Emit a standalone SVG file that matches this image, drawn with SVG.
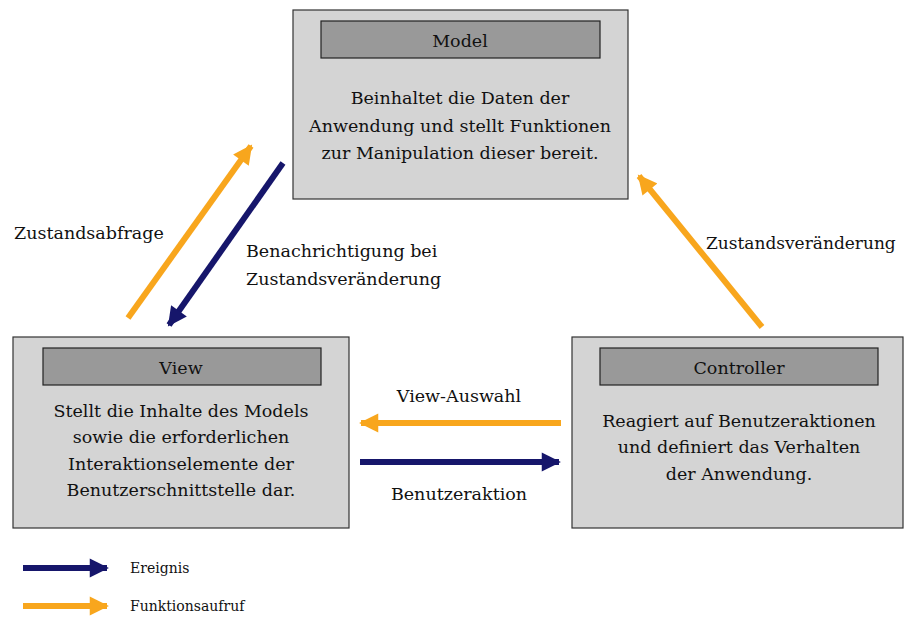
<svg xmlns="http://www.w3.org/2000/svg" width="904" height="619" viewBox="0 0 904 619">
<style>
text{font-family:"DejaVu Serif",serif;fill:#111}
.box{fill:#d4d4d4;stroke:#333;stroke-width:1.2}
.hdr{fill:#999;stroke:#222;stroke-width:1.2}
.t{font-size:17.5px;text-anchor:middle}
.l{font-size:17.5px}
.s{font-size:14px}
.o{stroke:#f8a61d;stroke-width:6;fill:none}
.n{stroke:#16166b;stroke-width:6;fill:none}
</style>
<defs>
<marker id="mo" viewBox="0 0 10 10" refX="9" refY="5" markerWidth="3.4" markerHeight="3.2" orient="auto" markerUnits="strokeWidth"><path d="M0,0 L10,5 L0,10 z" fill="#f8a61d"/></marker>
<marker id="mn" viewBox="0 0 10 10" refX="9" refY="5" markerWidth="3.4" markerHeight="3.2" orient="auto" markerUnits="strokeWidth"><path d="M0,0 L10,5 L0,10 z" fill="#16166b"/></marker>
</defs>
<rect width="904" height="619" fill="#fff"/>
<g id="model">
<rect class="box" x="293" y="10" width="335" height="189"/>
<rect class="hdr" x="321" y="21" width="279" height="37"/>
<text class="t" x="460" y="47">Model</text>
<text class="t" x="460" y="104">Beinhaltet die Daten der</text>
<text class="t" x="460" y="132">Anwendung und stellt Funktionen</text>
<text class="t" x="460" y="159">zur Manipulation dieser bereit.</text>
</g>
<g id="view">
<rect class="box" x="13" y="337" width="336" height="191"/>
<rect class="hdr" x="43" y="348" width="278" height="37"/>
<text class="t" x="181" y="374">View</text>
<text class="t" x="181" y="417">Stellt die Inhalte des Models</text>
<text class="t" x="181" y="443">sowie die erforderlichen</text>
<text class="t" x="181" y="470">Interaktionselemente der</text>
<text class="t" x="181" y="496">Benutzerschnittstelle dar.</text>
</g>
<g id="controller">
<rect class="box" x="572" y="337" width="331" height="191"/>
<rect class="hdr" x="600" y="348" width="278" height="37"/>
<text class="t" x="739" y="374">Controller</text>
<text class="t" x="739" y="427">Reagiert auf Benutzeraktionen</text>
<text class="t" x="739" y="453">und definiert das Verhalten</text>
<text class="t" x="739" y="480">der Anwendung.</text>
</g>
<g id="connectors">
<line class="o" x1="128" y1="318" x2="251" y2="146" marker-end="url(#mo)"/>
<line class="n" x1="283" y1="163" x2="169" y2="325" marker-end="url(#mn)"/>
<line class="o" x1="762" y1="327" x2="639" y2="176" marker-end="url(#mo)"/>
<line class="o" x1="561" y1="423" x2="361" y2="423" marker-end="url(#mo)"/>
<line class="n" x1="360" y1="462" x2="559" y2="462" marker-end="url(#mn)"/>
<text class="l" x="14" y="239">Zustandsabfrage</text>
<text class="l" x="246" y="257">Benachrichtigung bei</text>
<text class="l" x="246" y="285">Zustandsveränderung</text>
<text class="l" x="706" y="249" style="font-size:17px">Zustandsveränderung</text>
<text class="t" x="459" y="402">View-Auswahl</text>
<text class="t" x="459" y="500">Benutzeraktion</text>
</g>
<g id="legend">
<line class="n" x1="23" y1="568" x2="107" y2="568" marker-end="url(#mn)"/>
<line class="o" x1="23" y1="606" x2="107" y2="606" marker-end="url(#mo)"/>
<text class="s" x="130" y="573">Ereignis</text>
<text class="s" x="130" y="611">Funktionsaufruf</text>
</g>
</svg>
